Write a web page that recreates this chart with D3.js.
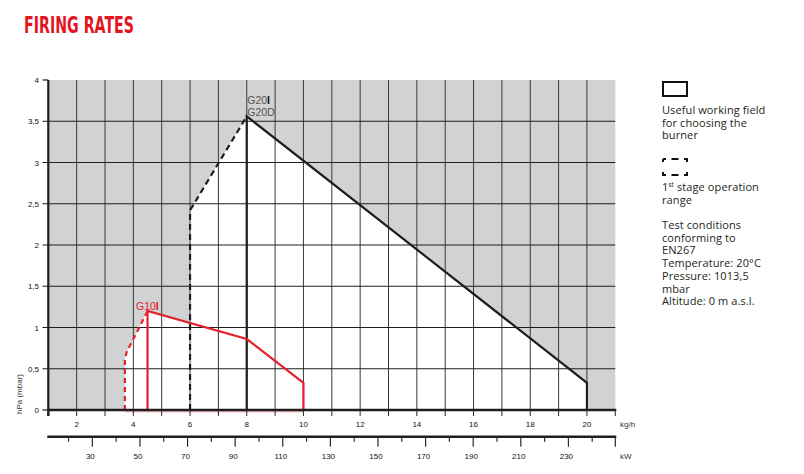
<!DOCTYPE html>
<html>
<head>
<meta charset="utf-8">
<script src="https://cdn.jsdelivr.net/npm/d3@7"></script>
<style>
  body { margin: 0; background: white; }
  svg { display: block; }
</style>
</head>
<body>
<div id="chart"></div>
<script>
// values
const hpa_ticks = [0, 0.5, 1, 1.5, 2, 2.5, 3, 3.5, 4];
const hpa_labels = ["0", "0,5", "1", "1,5", "2", "2,5", "3", "3,5", "4"];
const kg_ticks = [1, 2, 3, 4, 5, 6, 7, 8, 9, 10, 11, 12, 13, 14, 15, 16, 17, 18, 19, 20, 21];
const kg_labels = [2, 4, 6, 8, 10, 12, 14, 16, 18, 20];
const kw_ticks = [20, 30, 40, 50, 60, 70, 80, 90, 100, 110, 120, 130, 140, 150, 160, 170, 180, 190, 200, 210, 220, 230, 240];
const kw_labels = [30, 50, 70, 90, 110, 130, 150, 170, 190, 210, 230];
const kw_extent = [11.5, 249.7]; // kW matching 1 and 21 kg/h on the drawing

// burner envelopes, [kg/h, hPa]
const g20_dashed = [[6, 0], [6, 2.42], [8, 3.56]];
const g20_solid = [[8, 0], [8, 3.56], [20, 0.33], [20, 0]];
const g10_dashed = [[3.7, 0], [3.7, 0.6], [3.76, 0.7], [4.0, 0.86], [4.5, 1.2]];
const g10_solid = [[4.5, 0], [4.5, 1.2], [8, 0.86], [10, 0.33], [10, 0]];

const legend_lines = [
  {y: 114, t: "Useful working field"},
  {y: 126.5, t: "for choosing the"},
  {y: 139, t: "burner"},
  {y: 191, t: "1", sup: "st", rest: " stage operation"},
  {y: 203.5, t: "range"},
  {y: 229, t: "Test conditions"},
  {y: 241.5, t: "conforming to"},
  {y: 254, t: "EN267"},
  {y: 267, t: "Temperature: 20°C"},
  {y: 280, t: "Pressure: 1013,5"},
  {y: 292.5, t: "mbar"},
  {y: 305, t: "Altitude: 0 m a.s.l."}
];

const width = 804, height = 474;
const gray = "#d1d2d4", red = "#e5202a", ink = "#1e1e1e";
const tick_font = "'Liberation Sans', Arial, sans-serif";

const svg = d3.select("#chart")
  .append("svg")
  .attr("width", width)
  .attr("height", height)
;

const x = d3.scaleLinear().domain([1, 21]).range([48.3, 615.3]);
const y = d3.scaleLinear().domain([0, 4]).range([410, 80]);
const xkw = d3.scaleLinear().domain(kw_extent).range(x.range());

const line = d3.line().x(d => x(d[0])).y(d => y(d[1]));

// title
svg.append("text")
  .attr("x", 24)
  .attr("y", 33)
  .attr("fill", "#e3161f")
  .attr("font-family", "'Liberation Sans Narrow', 'DejaVu Sans Condensed', sans-serif")
  .attr("font-weight", "bold")
  .attr("font-size", 23)
  .attr("textLength", 110)
  .attr("lengthAdjust", "spacingAndGlyphs")
  .text("FIRING RATES")
;

// background outside the working fields
svg.append("rect")
  .attr("x", x(1))
  .attr("y", y(4))
  .attr("width", x(21) - x(1))
  .attr("height", y(0) - y(4))
  .attr("fill", gray)
;

svg.append("g")
  .selectAll("path")
  .data([g20_dashed.concat(g20_solid.slice(2)), g10_dashed.concat(g10_solid.slice(2))])
  .enter()
  .append("path")
  .attr("d", d => line(d) + "Z")
  .attr("fill", "white")
;

// grid
const grid = svg.append("g");
grid.selectAll(".vgrid")
  .data(kg_ticks.slice(1, -1))
  .enter()
  .append("line")
  .attr("x1", d => x(d))
  .attr("x2", d => x(d))
  .attr("y1", y(4))
  .attr("y2", y(0))
  .attr("stroke", "#3a3a3a")
  .attr("stroke-width", 1)
;
grid.selectAll(".hgrid")
  .data(hpa_ticks.slice(1, -1))
  .enter()
  .append("line")
  .attr("x1", 42.5)
  .attr("x2", x(21))
  .attr("y1", d => y(d))
  .attr("y2", d => y(d))
  .attr("stroke", ink)
  .attr("stroke-width", 1.2)
;

// y axis
const yax = svg.append("g");
yax.selectAll(".ytick")
  .data([0, 4])
  .enter()
  .append("line")
  .attr("x1", 42.5)
  .attr("x2", x(1))
  .attr("y1", d => y(d))
  .attr("y2", d => y(d))
  .attr("stroke", ink)
  .attr("stroke-width", 1.2)
;
yax.append("line")
  .attr("x1", x(1))
  .attr("x2", x(1))
  .attr("y1", y(4))
  .attr("y2", y(0) + 6)
  .attr("stroke", ink)
  .attr("stroke-width", 2.2)
;
yax.selectAll("text")
  .data(hpa_ticks)
  .enter()
  .append("text")
  .attr("x", 39)
  .attr("y", d => y(d) + 3)
  .attr("text-anchor", "end")
  .attr("font-family", tick_font)
  .attr("font-size", 8)
  .attr("fill", "#111")
  .text((d, i) => hpa_labels[i])
;
svg.append("text")
  .attr("transform", "translate(22,414) rotate(-90)")
  .attr("font-family", tick_font)
  .attr("font-size", 8)
  .attr("fill", "#333")
  .text("hPa (mbar)")
;

// working field outlines
svg.append("path")
  .attr("d", line(g20_dashed))
  .attr("fill", "none")
  .attr("stroke", ink)
  .attr("stroke-width", 2.2)
  .attr("stroke-dasharray", "6,4")
;
svg.append("path")
  .attr("d", line(g20_solid))
  .attr("fill", "none")
  .attr("stroke", ink)
  .attr("stroke-width", 2.2)
;
svg.append("path")
  .attr("d", line(g10_dashed))
  .attr("fill", "none")
  .attr("stroke", red)
  .attr("stroke-width", 2.2)
  .attr("stroke-dasharray", "5,4")
;
svg.append("path")
  .attr("d", line(g10_solid))
  .attr("fill", "none")
  .attr("stroke", red)
  .attr("stroke-width", 2.2)
;
svg.append("line")
  .attr("x1", x(g10_dashed[0][0]))
  .attr("x2", x(g10_solid[g10_solid.length - 1][0]))
  .attr("y1", y(0) + 1.8)
  .attr("y2", y(0) + 1.8)
  .attr("stroke", red)
  .attr("stroke-opacity", 0.45)
  .attr("stroke-width", 1)
;

// kg/h axis
const kgax = svg.append("g");
kgax.append("line")
  .attr("x1", x(1) - 1)
  .attr("x2", x(21) + 1)
  .attr("y1", y(0))
  .attr("y2", y(0))
  .attr("stroke", ink)
  .attr("stroke-width", 2.4)
;
kgax.selectAll(".tick")
  .data(kg_ticks)
  .enter()
  .append("line")
  .attr("x1", d => x(d))
  .attr("x2", d => x(d))
  .attr("y1", y(0))
  .attr("y2", y(0) + 6)
  .attr("stroke", "#2a2a2a")
  .attr("stroke-width", d => d === 1 ? 2.2 : 1)
;
kgax.selectAll("text")
  .data(kg_labels)
  .enter()
  .append("text")
  .attr("x", d => x(d))
  .attr("y", 426.5)
  .attr("text-anchor", "middle")
  .attr("font-family", tick_font)
  .attr("font-size", 8)
  .attr("fill", "#111")
  .text(d => d)
;
svg.append("text")
  .attr("x", 620)
  .attr("y", 427)
  .attr("font-family", tick_font)
  .attr("font-size", 8)
  .attr("fill", "#333")
  .text("kg/h")
;

// kW axis
const kway = 436.7;
const kwax = svg.append("g");
kwax.append("line")
  .attr("x1", x(1) - 1)
  .attr("x2", x(21) + 1)
  .attr("y1", kway)
  .attr("y2", kway)
  .attr("stroke", ink)
  .attr("stroke-width", 2.4)
;
kwax.selectAll(".tick")
  .data(kw_ticks.concat([kw_extent[1]]))
  .enter()
  .append("line")
  .attr("x1", d => xkw(d))
  .attr("x2", d => xkw(d))
  .attr("y1", kway)
  .attr("y2", d => kway + (kw_labels.includes(d) || d === kw_extent[1] ? 10 : 5))
  .attr("stroke", "#2a2a2a")
  .attr("stroke-width", 1.2)
;
kwax.selectAll("text")
  .data(kw_labels)
  .enter()
  .append("text")
  .attr("x", d => xkw(d) - 2)
  .attr("y", 458.5)
  .attr("text-anchor", "middle")
  .attr("font-family", tick_font)
  .attr("font-size", 8)
  .attr("fill", "#111")
  .text(d => d)
;
svg.append("text")
  .attr("x", 620)
  .attr("y", 458.5)
  .attr("font-family", tick_font)
  .attr("font-size", 8)
  .attr("fill", "#333")
  .text("kW")
;

// gas labels
const g20 = svg.append("text")
  .attr("x", x(8) + 0.5)
  .attr("y", 103.5)
  .attr("font-family", tick_font)
  .attr("font-size", 10.5)
  .attr("fill", "#555")
;
g20.append("tspan").text("G20");
g20.append("tspan").attr("font-weight", "bold").attr("fill", "#111").text("I");
svg.append("text")
  .attr("x", x(8) + 0.5)
  .attr("y", 115.5)
  .attr("font-family", tick_font)
  .attr("font-size", 10.5)
  .attr("fill", "#555")
  .text("G20D")
;
const g10 = svg.append("text")
  .attr("x", 136)
  .attr("y", 310)
  .attr("font-family", tick_font)
  .attr("font-size", 10.5)
  .attr("fill", red)
;
g10.append("tspan").text("G10");
g10.append("tspan").attr("font-weight", "bold").text("I");

// legend
const legend = svg.append("g");
legend.append("rect")
  .attr("x", 663)
  .attr("y", 82)
  .attr("width", 24)
  .attr("height", 14)
  .attr("fill", "none")
  .attr("stroke", "#111")
  .attr("stroke-width", 2)
;
legend.append("rect")
  .attr("x", 663)
  .attr("y", 159)
  .attr("width", 24)
  .attr("height", 16)
  .attr("fill", "none")
  .attr("stroke", "#111")
  .attr("stroke-width", 2)
  .attr("stroke-dasharray", "3 5.5 7 5.5 6 10 6 5.5 7 5.5 6 10 3 0")
;
legend.selectAll("text")
  .data(legend_lines)
  .enter()
  .append("text")
  .attr("x", 662)
  .attr("y", d => d.y)
  .attr("font-family", "'Open Sans', sans-serif")
  .attr("font-size", 11)
  .attr("letter-spacing", 0.1)
  .attr("fill", "#231f20")
  .each(function(d) {
    const t = d3.select(this);
    t.append("tspan").text(d.t);
    if (d.sup) {
      t.append("tspan").attr("font-size", 6.5).attr("dy", -4).text(d.sup);
      t.append("tspan").attr("dy", 4).text(d.rest);
    }
  })
;
</script>
</body>
</html>
